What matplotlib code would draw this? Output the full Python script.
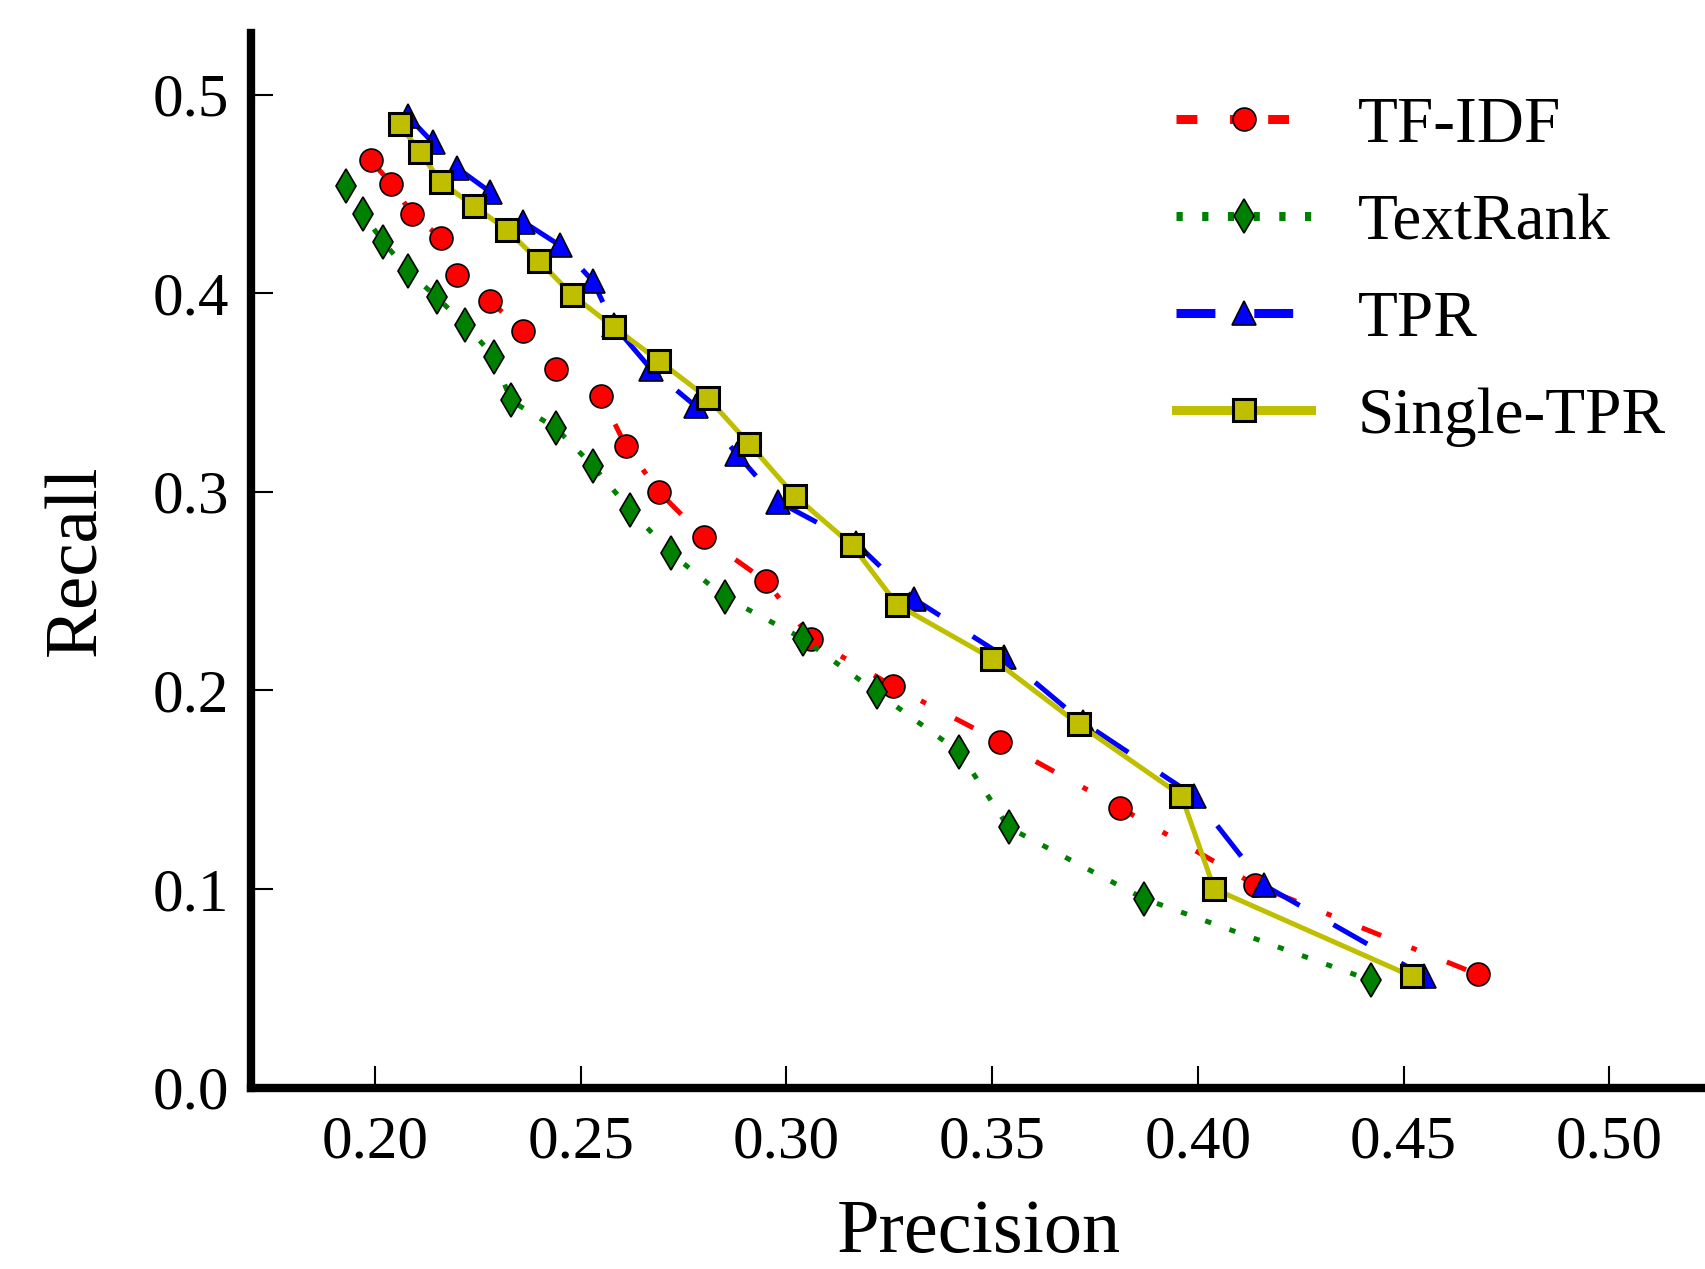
#!/usr/bin/env python

import matplotlib

matplotlib.use('Agg')

import matplotlib.pyplot as plt
from matplotlib.lines import Line2D
import numpy as np

# precision / recall points
tfidf_p = [0.199, 0.204, 0.209, 0.216, 0.220, 0.228, 0.236, 0.244, 0.255, 0.261,
           0.269, 0.280, 0.295, 0.306, 0.326, 0.352, 0.381, 0.414, 0.468]
tfidf_r = [0.467, 0.455, 0.440, 0.428, 0.409, 0.396, 0.381, 0.362, 0.348, 0.323,
           0.300, 0.277, 0.255, 0.226, 0.202, 0.174, 0.141, 0.102, 0.057]

textrank_p = [0.193, 0.197, 0.202, 0.208, 0.215, 0.222, 0.229, 0.233, 0.244, 0.253,
              0.262, 0.272, 0.285, 0.304, 0.322, 0.342, 0.354, 0.387, 0.442]
textrank_r = [0.454, 0.440, 0.426, 0.411, 0.398, 0.384, 0.368, 0.346, 0.332, 0.313,
              0.291, 0.269, 0.247, 0.226, 0.199, 0.169, 0.131, 0.095, 0.054]

tpr_p = [0.208, 0.214, 0.220, 0.228, 0.236, 0.245, 0.253, 0.258, 0.267, 0.278,
         0.288, 0.298, 0.317, 0.331, 0.353, 0.372, 0.399, 0.416, 0.455]
tpr_r = [0.489, 0.476, 0.463, 0.451, 0.436, 0.424, 0.406, 0.384, 0.362, 0.343,
         0.319, 0.295, 0.274, 0.246, 0.217, 0.184, 0.147, 0.102, 0.056]

single_p = [0.206, 0.211, 0.216, 0.224, 0.232, 0.240, 0.248, 0.258, 0.269, 0.281,
            0.291, 0.302, 0.316, 0.327, 0.350, 0.371, 0.396, 0.404, 0.452]
single_r = [0.485, 0.471, 0.456, 0.444, 0.432, 0.416, 0.399, 0.383, 0.366, 0.347,
            0.324, 0.298, 0.273, 0.243, 0.216, 0.183, 0.147, 0.100, 0.056]

labels = ['TF-IDF', 'TextRank', 'TPR', 'Single-TPR']
xticks = [0.20, 0.25, 0.30, 0.35, 0.40, 0.45, 0.50]
yticks = [0.0, 0.1, 0.2, 0.3, 0.4, 0.5]

plt.rcParams['font.family'] = ['Liberation Serif', 'DejaVu Serif']
plt.rcParams['lines.scale_dashes'] = False

fig = plt.figure(figsize=(17.06, 12.69), dpi=100)
ax = fig.add_axes([0.1474, 0.1430, 0.8526, 0.8310])

styles = [
    dict(color='r', ls=(0, (15, 23.5, 4, 23.5)), marker='o', ms=16.5, mfc='r', mec='k', mew=1.2),
    dict(color='g', ls=(0, (4.5, 14)), marker='d', ms=17, mfc='g', mec='k', mew=1.2),
    dict(color='b', ls=(0, (28, 28)), marker='^', ms=17, mfc='b', mec='k', mew=1.2),
    dict(color='y', ls='-', marker='s', ms=16, mfc='y', mec='k', mew=2.2),
]
series = [(tfidf_p, tfidf_r), (textrank_p, textrank_r), (tpr_p, tpr_r), (single_p, single_r)]

handles = []
for (p, r), st, lab in zip(series, styles, labels):
    ax.plot(p, r, lw=3.6, **st)
    # legend lines are drawn thicker in the original
    handles.append(Line2D([], [], lw=6.5, label=lab, **st))

ax.set_xlim(0.17, 0.5235)
ax.set_ylim(0.0, 0.531)
ax.set_xticks(xticks)
ax.set_xticklabels(['%.2f' % t for t in xticks])
ax.set_yticks(yticks)
ax.set_yticklabels(['%.1f' % t for t in yticks])

for side in ['top', 'right']:
    ax.spines[side].set_visible(False)
for side in ['left', 'bottom']:
    ax.spines[side].set_linewidth(6)
ax.tick_params(direction='in', length=16, width=1.5, labelsize=44, top=False, right=False)
ax.tick_params(axis='x', pad=20)
ax.tick_params(axis='y', pad=16)

ax.set_xlabel('Precision', fontsize=55, labelpad=20)
ax.set_ylabel('Recall', fontsize=54, labelpad=30)

ax.legend(handles=handles, loc='upper left', bbox_to_anchor=(0.6893, 0.924),
          bbox_transform=fig.transFigure, frameon=False, numpoints=1, fontsize=47,
          handlelength=2.07, handletextpad=0.72, labelspacing=0.57,
          borderpad=0, borderaxespad=0)

fig.savefig('out.png', dpi=100)
